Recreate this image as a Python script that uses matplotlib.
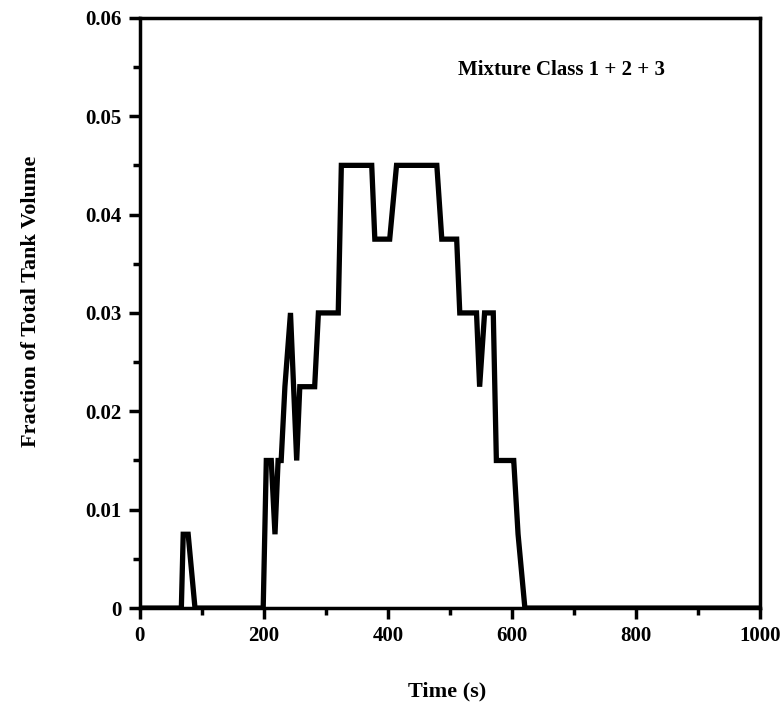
import numpy as np
import matplotlib.pyplot as plt
from matplotlib.ticker import MultipleLocator

# time (s) and fraction of total tank volume
time = [0, 67, 70, 78, 89, 199, 204, 212, 218, 223, 228, 234, 243, 253, 258,
        282, 288, 320, 325, 374, 379, 403, 414, 479, 487, 511, 516, 543, 548,
        556, 570, 575, 600, 603, 610, 621, 1000]
frac = [0, 0, 0.0075, 0.0075, 0, 0, 0.015, 0.015, 0.0075, 0.015, 0.015, 0.0225,
        0.03, 0.015, 0.0225, 0.0225, 0.03, 0.03, 0.045, 0.045, 0.0375, 0.0375,
        0.045, 0.045, 0.0375, 0.0375, 0.03, 0.03, 0.0225, 0.03, 0.03, 0.015,
        0.015, 0.015, 0.0075, 0, 0]

xticks = [0, 200, 400, 600, 800, 1000]
yticks = [0, 0.01, 0.02, 0.03, 0.04, 0.05, 0.06]
ylabels = ['0', '0.01', '0.02', '0.03', '0.04', '0.05', '0.06']

plt.rcParams['font.family'] = ['Liberation Serif', 'DejaVu Serif']
plt.rcParams['font.weight'] = 'bold'

fig = plt.figure(figsize=(7.81, 7.12), dpi=100)
ax = fig.add_axes([0.179, 0.146, 0.794, 0.829])

ax.plot(time, frac, color='black', lw=3.8, solid_joinstyle='miter')

ax.set_xlim(0, 1000)
ax.set_ylim(0, 0.06)
ax.set_xticks(xticks)
ax.set_yticks(yticks)
ax.set_yticklabels(ylabels)
ax.xaxis.set_minor_locator(MultipleLocator(100))
ax.yaxis.set_minor_locator(MultipleLocator(0.005))
ax.tick_params(which='major', direction='out', length=8, width=2.5,
               labelsize=15, pad=5)
ax.tick_params(which='minor', direction='out', length=5, width=2.5)
for s in ax.spines.values():
    s.set_linewidth(2.5)

ax.text(513, 0.0547, 'Mixture Class 1 + 2 + 3', fontsize=15, fontweight='bold',
        va='center')

ax.set_xlabel('Time (s)', fontsize=16, fontweight='bold')
ax.set_ylabel('Fraction of Total Tank Volume', fontsize=16, fontweight='bold')
ax.xaxis.set_label_coords(0.495, -0.125)
ax.yaxis.set_label_coords(-0.16, 0.52)

fig.savefig('out.png', dpi=100)
